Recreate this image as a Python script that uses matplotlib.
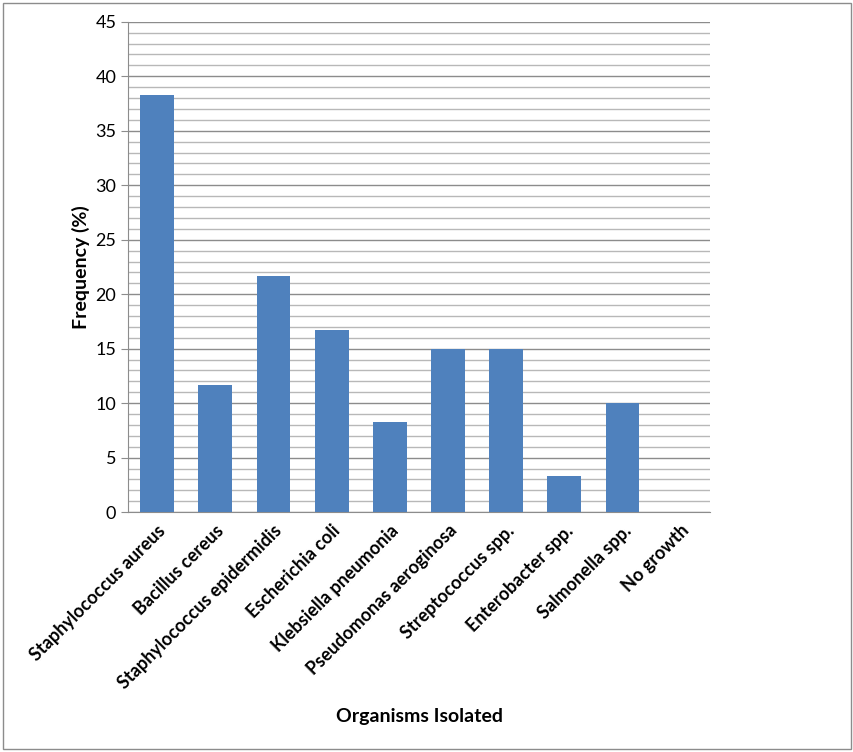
import matplotlib.pyplot as plt
from matplotlib.patches import Rectangle

organisms = ['Staphylococcus aureus', 'Bacillus cereus', 'Staphylococcus epidermidis',
             'Escherichia coli', 'Klebsiella pneumonia', 'Pseudomonas aeroginosa',
             'Streptococcus spp.', 'Enterobacter spp.', 'Salmonella spp.', 'No growth']
frequency = [38.3, 11.7, 21.7, 16.7, 8.3, 15.0, 15.0, 3.3, 10.0, 0.0]

plt.rcParams['font.family'] = ['Lato', 'DejaVu Sans']

fig = plt.figure(figsize=(8.54, 7.52), dpi=100)
ax = fig.add_axes([0.150, 0.319, 0.681, 0.652])

ax.set_axisbelow(True)
ax.bar(range(len(organisms)), frequency, width=0.58, color='#4f81bd', zorder=3)

ax.set_xlim(-0.5, len(organisms) - 0.5)
ax.set_ylim(0, 45)
ax.set_yticks(range(0, 46, 5))
ax.set_yticks(range(0, 46, 1), minor=True)
ax.grid(axis='y', which='major', color='#8c8c8c', linewidth=1)
ax.grid(axis='y', which='minor', color='#b8b8b8', linewidth=1)
ax.tick_params(axis='y', which='major', length=5, color='#8c8c8c', labelsize=13)
ax.tick_params(axis='y', which='minor', length=0)
ax.tick_params(axis='x', length=0, pad=7)

ax.set_xticks(range(len(organisms)))
ax.set_xticklabels(organisms, rotation=45, ha='right', rotation_mode='anchor',
                   fontsize=13, fontweight='bold')

for s in ['top', 'right']:
    ax.spines[s].set_visible(False)
for s in ['left', 'bottom']:
    ax.spines[s].set_color('#8c8c8c')

ax.set_ylabel('Frequency (%)', fontsize=14, fontweight='bold', labelpad=4)
fig.text(0.491, 0.040, 'Organisms Isolated', ha='center', fontsize=14, fontweight='bold')

fig.patches.append(Rectangle((0.004, 0.004), 0.992, 0.992, transform=fig.transFigure,
                             fill=False, edgecolor='#8c8c8c', linewidth=1))

plt.savefig('out.png', dpi=100)
